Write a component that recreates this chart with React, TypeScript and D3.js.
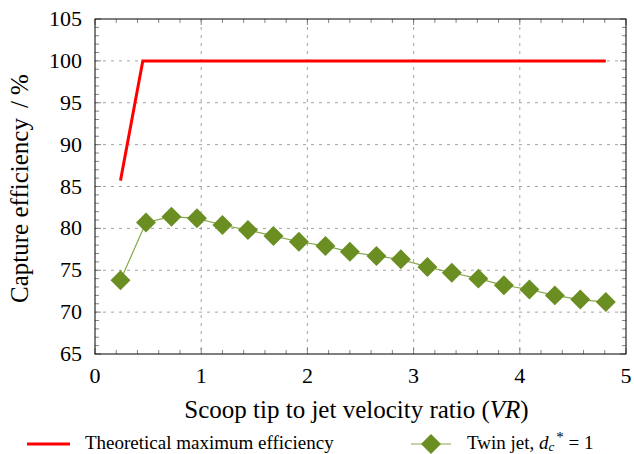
import React, { useRef, useEffect } from 'react';
import * as d3 from 'd3';

const W = 634;
const H = 454;
const M = { top: 19, right: 8, bottom: 100, left: 95 };

// Theoretical maximum efficiency (red)
const theoryVR = [0.24, 0.45, 4.81];
const theoryEff = [85.7, 100, 100];

// Twin jet, dc* = 1 (green diamonds)
const twinVR = [0.24, 0.48, 0.72, 0.96, 1.2, 1.44, 1.68, 1.92, 2.17, 2.4, 2.65, 2.88, 3.13, 3.36, 3.61, 3.85, 4.09, 4.33, 4.57, 4.81];
const twinEff = [73.8, 80.7, 81.4, 81.2, 80.4, 79.8, 79.1, 78.4, 77.9, 77.2, 76.7, 76.3, 75.4, 74.7, 74.0, 73.2, 72.7, 72.0, 71.5, 71.2];

const xTicks = [0, 1, 2, 3, 4, 5];
const yTicks = [65, 70, 75, 80, 85, 90, 95, 100, 105];

const SERIF = '"Liberation Serif", "Times New Roman", serif';
const RED = '#ff0000';
const GREEN = '#6b8e23';
const GREEN_LINE = '#86a84a';

export default function App() {
  const svgRef = useRef<SVGSVGElement>(null);

  useEffect(() => {
    const svg = d3.select(svgRef.current);
    svg.selectAll('*').remove();

    const w = W - M.left - M.right;
    const h = H - M.top - M.bottom;
    const x = d3.scaleLinear().domain([0, 5]).range([0, w]);
    const y = d3.scaleLinear().domain([65, 105]).range([h, 0]);
    const g = svg.append('g').attr('transform', `translate(${M.left},${M.top})`);

    // dashed grid
    g.selectAll('.gx').data(xTicks.slice(1, -1)).join('line')
      .attr('x1', d => x(d)).attr('x2', d => x(d)).attr('y1', 0).attr('y2', h)
      .attr('stroke', '#8c8c8c').attr('stroke-dasharray', '3,5').attr('stroke-width', 0.8);
    g.selectAll('.gy').data(yTicks.slice(1, -1)).join('line')
      .attr('y1', d => y(d)).attr('y2', d => y(d)).attr('x1', 0).attr('x2', w)
      .attr('stroke', '#8c8c8c').attr('stroke-dasharray', '3,5').attr('stroke-width', 0.8);

    // inward ticks on all four sides
    const xMinor = d3.range(0, 5.001, 0.2);
    const yMinor = d3.range(65, 105.001, 1);
    const tk = g.append('g').attr('stroke', '#666').attr('stroke-width', 0.8);
    xMinor.forEach((t, i) => {
      const len = i % 5 === 0 ? 6 : 4;
      tk.append('line').attr('x1', x(t)).attr('x2', x(t)).attr('y1', h).attr('y2', h - len);
      tk.append('line').attr('x1', x(t)).attr('x2', x(t)).attr('y1', 0).attr('y2', len);
    });
    yMinor.forEach((t, i) => {
      const len = i % 5 === 0 ? 6 : 4;
      tk.append('line').attr('y1', y(t)).attr('y2', y(t)).attr('x1', 0).attr('x2', len);
      tk.append('line').attr('y1', y(t)).attr('y2', y(t)).attr('x1', w).attr('x2', w - len);
    });

    // series
    const line = d3.line<number>().x((d, i) => x(theoryVR[i])).y(d => y(d));
    g.append('path').datum(theoryEff).attr('d', line).attr('fill', 'none')
      .attr('stroke', RED).attr('stroke-width', 3);
    const line2 = d3.line<number>().x((d, i) => x(twinVR[i])).y(d => y(d));
    g.append('path').datum(twinEff).attr('d', line2).attr('fill', 'none')
      .attr('stroke', GREEN_LINE).attr('stroke-width', 1.2);
    const diamond = d3.symbol(d3.symbolSquare, 200)()!;
    g.selectAll('.pt').data(twinEff).join('path')
      .attr('d', diamond).attr('fill', GREEN)
      .attr('transform', (d, i) => `translate(${x(twinVR[i])},${y(d)}) rotate(45)`);

    // frame
    g.append('rect').attr('width', w).attr('height', h)
      .attr('fill', 'none').attr('stroke', '#000').attr('stroke-width', 1);

    // tick labels
    g.selectAll('.tx').data(xTicks).join('text')
      .attr('x', d => x(d)).attr('y', h + 29).attr('text-anchor', 'middle')
      .style('font-family', SERIF).style('font-size', '22px').attr('fill', '#000')
      .text(d => d);
    g.selectAll('.ty').data(yTicks).join('text')
      .attr('x', -13).attr('y', d => y(d) + 7).attr('text-anchor', 'end')
      .style('font-family', SERIF).style('font-size', '22px').attr('fill', '#000')
      .text(d => d);

    // axis titles
    const xt = g.append('text').attr('x', w / 2 - 4).attr('y', h + 64).attr('text-anchor', 'middle')
      .style('font-family', SERIF).style('font-size', '25px').attr('fill', '#000');
    xt.append('tspan').text('Scoop tip to jet velocity ratio (');
    xt.append('tspan').style('font-style', 'italic').text('VR');
    xt.append('tspan').text(')');

    const yt = g.append('text').attr('transform', `translate(-67,${h / 2 + 2}) rotate(-90)`)
      .attr('text-anchor', 'middle')
      .style('font-family', SERIF).style('font-size', '25px').attr('fill', '#000');
    yt.append('tspan').text('Capture efficiency');
    yt.append('tspan').attr('dx', 10).text('/ %');

    // legend
    const lg = svg.append('g').attr('transform', 'translate(0,444)');
    lg.append('line').attr('x1', 27).attr('x2', 70).attr('stroke', RED).attr('stroke-width', 3);
    lg.append('text').attr('x', 85).attr('y', 5)
      .style('font-family', SERIF).style('font-size', '19px').attr('fill', '#000')
      .text('Theoretical maximum efficiency');
    lg.append('line').attr('x1', 411).attr('x2', 451).attr('stroke', GREEN_LINE).attr('stroke-width', 1.2);
    lg.append('path').attr('d', diamond).attr('fill', GREEN).attr('transform', 'translate(431,0) rotate(45)');
    const tw = lg.append('text').attr('x', 467).attr('y', 5)
      .style('font-family', SERIF).style('font-size', '19px').attr('fill', '#000');
    tw.append('tspan').text('Twin jet, ');
    tw.append('tspan').style('font-style', 'italic').text('d');
    tw.append('tspan').style('font-style', 'italic').style('font-size', '13px').attr('dy', 2).text('c');
    tw.append('tspan').style('font-size', '15px').attr('dy', -9).attr('dx', 2).text('*');
    tw.append('tspan').attr('dy', 7).text(' = 1');
  }, []);

  return <svg ref={svgRef} width={W} height={H} style={{ position: 'absolute', left: 0, top: 0 }} />;
}
